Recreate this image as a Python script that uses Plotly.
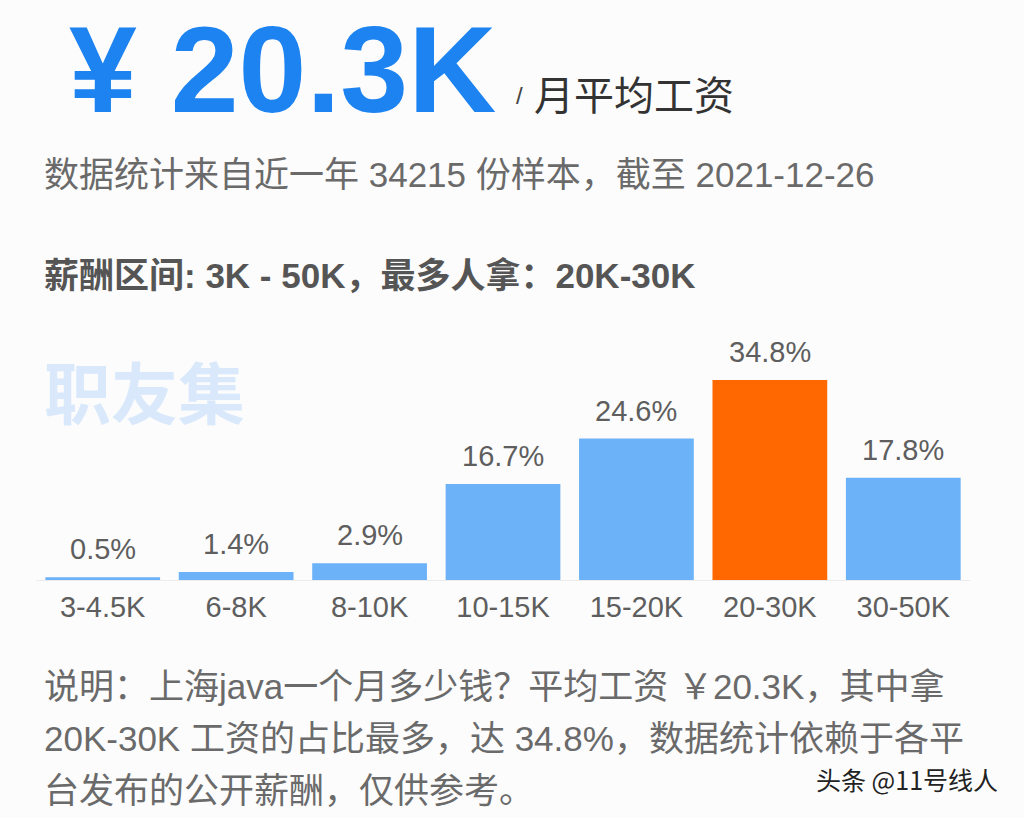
import plotly.graph_objects as go

categories = ["3-4.5K", "6-8K", "8-10K", "10-15K", "15-20K", "20-30K", "30-50K"]
shares = [0.5, 1.4, 2.9, 16.7, 24.6, 34.8, 17.8]
labels = ["0.5%", "1.4%", "2.9%", "16.7%", "24.6%", "34.8%", "17.8%"]
highlight = "20-30K"

W, H = 1024, 818
BLUE = "#6cb2f8"
ORANGE = "#ff6700"
colors = [ORANGE if c == highlight else BLUE for c in categories]

CJK = "Noto Sans CJK SC"
LAT = "Liberation Sans"
MIX = "Liberation Sans, Noto Sans CJK SC"


def py(px):
    return 1 - px / H


def px_x(px):
    return px / W


fig = go.Figure()
fig.add_trace(go.Bar(
    x=categories, y=shares, marker=dict(color=colors, line=dict(width=0)),
    hoverinfo="skip", showlegend=False,
))

annotations = []
for c, v, t in zip(categories, shares, labels):
    annotations.append(dict(
        x=c, y=v, xref="x", yref="y", text=t, showarrow=False,
        yanchor="middle", yshift=28,
        font=dict(family=LAT, size=29, color="#5e5e5e"),
    ))


def note(text, x, y, size, color, family=MIX, xanchor="left", yanchor="middle",
         bold=False):
    if bold:
        text = "<b>" + text + "</b>"
    annotations.append(dict(
        x=px_x(x), y=py(y), xref="paper", yref="paper", text=text, showarrow=False,
        xanchor=xanchor, yanchor=yanchor, align="left",
        font=dict(family=family, size=size, color=color),
    ))


note("¥ 20.3K", 67, 0, 122, "#1c83f1", family=LAT, bold=True, yanchor="top")
note("/", 514, 96, 24, "#444444", family=LAT)
note("月平均工资", 532, 93, 40, "#333333", family=CJK)
note("数据统计来自近一年 34215 份样本，截至 2021-12-26", 42, 174, 35, "#6a6a6a")
note("薪酬区间: 3K - 50K，最多人拿：20K-30K", 42, 275, 35, "#555555", bold=True)
note("职友集", 42, 390, 67, "#d9e9fb", family=CJK, bold=True)
note("说明：上海java一个月多少钱？平均工资 ￥20.3K，其中拿", 42, 686, 35, "#6a6a6a")
note("20K-30K 工资的占比最多，达 34.8%，数据统计依赖于各平", 42, 738, 35, "#6a6a6a")
note("台发布的公开薪酬，仅供参考。", 42, 790, 35, "#6a6a6a")
note("头条 @11号线人", 1002, 780, 25, "#ffffff", family=CJK, xanchor="right")
note("头条 @11号线人", 1000, 779, 25, "#222222", family=CJK, xanchor="right")

fig.update_layout(
    width=W, height=H,
    margin=dict(l=0, r=0, t=0, b=0),
    paper_bgcolor="#fcfcfc", plot_bgcolor="#fcfcfc",
    bargap=0.14,
    annotations=annotations,
    xaxis=dict(
        domain=[px_x(36), px_x(970)],
        showgrid=False, zeroline=False,
        showline=True, linecolor="#ececec", linewidth=1,
        ticks="outside", ticklen=1, tickcolor="rgba(0,0,0,0)",
        tickfont=dict(family=LAT, size=29, color="#5e5e5e"),
        fixedrange=True,
    ),
    yaxis=dict(
        domain=[py(580), py(580) + 230 / H],
        range=[0, 40],
        showgrid=False, zeroline=False, showticklabels=False,
        fixedrange=True,
    ),
)

fig.write_html("out.html")
